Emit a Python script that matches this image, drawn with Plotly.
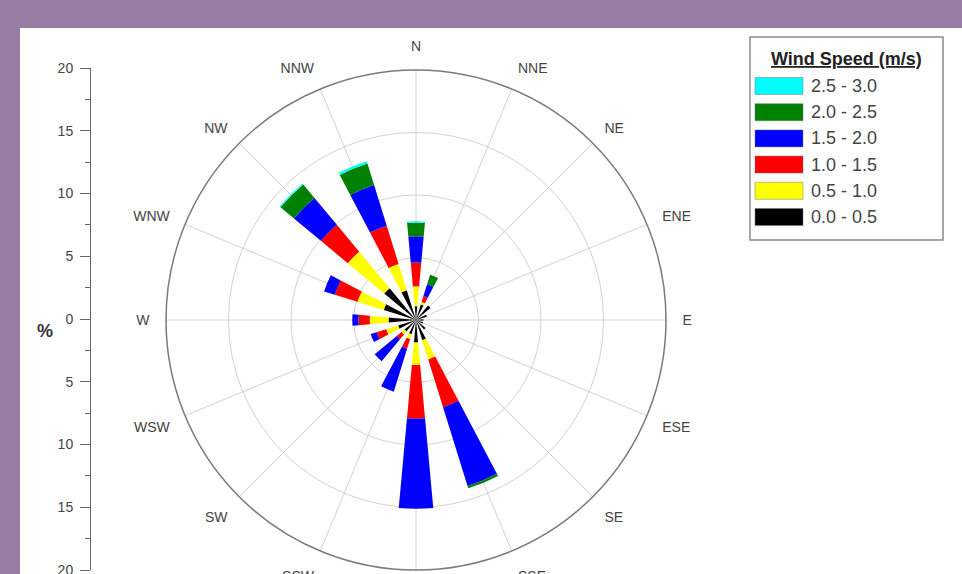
import plotly.graph_objects as go

# Wind directions (16-point compass, clockwise from north)
directions = ["N", "NNE", "NE", "ENE", "E", "ESE", "SE", "SSE",
              "S", "SSW", "SW", "WSW", "W", "WNW", "NW", "NNW"]
angles = [i * 22.5 for i in range(16)]

# Frequency (%) of each speed class per direction
speed_0_05 = [1.1, 1.3, 1.5, 0.9, 0.6, 0.6, 1.0, 1.7, 1.8, 1.2, 1.2, 1.5, 2.2, 2.7, 3.3, 2.5]
speed_05_10 = [1.6, 0.2, 0.0, 0.0, 0.0, 0.0, 0.0, 1.6, 1.8, 0.4, 0.3, 1.0, 1.5, 2.2, 3.8, 2.2]
speed_10_15 = [1.9, 0.5, 0.0, 0.0, 0.0, 0.0, 0.0, 4.0, 4.3, 0.8, 0.5, 0.8, 0.9, 1.9, 2.8, 3.2]
speed_15_20 = [2.1, 1.0, 0.0, 0.0, 0.0, 0.0, 0.0, 6.6, 7.2, 3.6, 2.3, 0.5, 0.5, 0.9, 2.8, 3.4]
speed_20_25 = [1.1, 0.8, 0.0, 0.0, 0.0, 0.0, 0.0, 0.2, 0.0, 0.0, 0.0, 0.0, 0.0, 0.0, 1.4, 1.8]
speed_25_30 = [0.1, 0.0, 0.0, 0.0, 0.0, 0.0, 0.0, 0.0, 0.0, 0.0, 0.0, 0.0, 0.0, 0.0, 0.1, 0.2]

speed_labels = ["0.0 - 0.5", "0.5 - 1.0", "1.0 - 1.5", "1.5 - 2.0", "2.0 - 2.5", "2.5 - 3.0"]
speed_colors = ["#000000", "#ffff00", "#ff0000", "#0000ff", "#008000", "#00ffff"]
speed_series = [speed_0_05, speed_05_10, speed_10_15, speed_15_20, speed_20_25, speed_25_30]

# Left-hand radial scale labels
scale_vals = [-20, -15, -10, -5, 0, 5, 10, 15, 20]
scale_text = ["20", "15", "10", "5", "0", "5", "10", "15", "20"]

W, H = 962, 574
FONT = "Arial, Liberation Sans, sans-serif"


def px_x(x):
    return x / W


def px_y(y):
    return 1 - y / H


fig = go.Figure()

for vals, label, color in zip(speed_series, speed_labels, speed_colors):
    fig.add_trace(go.Barpolar(
        r=vals, theta=angles, width=[10.5] * len(angles),
        name=label, marker=dict(color=color, line=dict(width=0)),
        showlegend=False,
    ))

# invisible trace so the cartesian scale on the left is drawn
fig.add_trace(go.Scatter(x=[0], y=[0], mode="markers", marker=dict(opacity=0),
                         hoverinfo="skip", showlegend=False))

shapes = [
    # white panel
    dict(type="rect", xref="paper", yref="paper", layer="below",
         x0=px_x(20), x1=1.0, y0=0.0, y1=px_y(28),
         fillcolor="white", line=dict(width=0)),
    # legend frame
    dict(type="rect", xref="paper", yref="paper",
         x0=px_x(750), x1=px_x(943), y0=px_y(240), y1=px_y(37),
         fillcolor="white", line=dict(color="#8a8a8a", width=1.5)),
]

annotations = [
    dict(text="<b><u>Wind Speed (m/s)</u></b>", xref="paper", yref="paper",
         x=px_x(846), y=px_y(59), xanchor="center", yanchor="middle",
         showarrow=False, font=dict(family=FONT, size=18, color="#222")),
    dict(text="<b>%</b>", xref="paper", yref="paper",
         x=px_x(45), y=px_y(331), xanchor="center", yanchor="middle",
         showarrow=False, font=dict(family=FONT, size=18, color="#333")),
]

# legend rows, top entry is the fastest class
for i, (label, color) in enumerate(zip(reversed(speed_labels), reversed(speed_colors))):
    cy = 86 + i * 26.2
    shapes.append(dict(type="rect", xref="paper", yref="paper",
                       x0=px_x(755), x1=px_x(803), y0=px_y(cy + 8.5), y1=px_y(cy - 8.5),
                       fillcolor=color, line=dict(color="#777", width=0.5)))
    annotations.append(dict(text=label, xref="paper", yref="paper",
                            x=px_x(809), y=px_y(cy), xanchor="left", yanchor="middle",
                            showarrow=False, font=dict(family=FONT, size=18, color="#444")))

fig.update_layout(
    width=W, height=H,
    margin=dict(l=0, r=0, t=0, b=0, autoexpand=False),
    paper_bgcolor="#977ca4",
    plot_bgcolor="rgba(0,0,0,0)",
    font=dict(family=FONT, color="#444"),
    shapes=shapes,
    annotations=annotations,
    polar=dict(
        domain=dict(x=[px_x(166), px_x(666)], y=[px_y(570), px_y(70)]),
        bgcolor="white",
        barmode="stack",
        radialaxis=dict(range=[0, 20], tickvals=[5, 10, 15], showticklabels=False,
                        ticks="", showline=False, gridcolor="#d2d2d2", gridwidth=1),
        angularaxis=dict(rotation=90, direction="clockwise",
                         tickmode="array", tickvals=angles, ticktext=directions,
                         showline=True, linecolor="#7a7a7a", linewidth=1.5,
                         gridcolor="#d2d2d2", gridwidth=1,
                         ticks="outside", ticklen=13, tickcolor="rgba(0,0,0,0)",
                         tickfont=dict(family=FONT, size=14, color="#444")),
    ),
    xaxis=dict(domain=[0.0, px_x(90)], visible=False, range=[-1, 1], automargin=False),
    yaxis=dict(domain=[px_y(570), px_y(68)], range=[-20, 20],
               anchor="free", position=px_x(90), side="left", automargin=False,
               tickmode="array", tickvals=scale_vals, ticktext=scale_text,
               ticks="outside", ticklen=10, tickcolor="#666",
               ticklabeloverflow="allow", ticklabelstandoff=4,
               showline=True, linecolor="#666", linewidth=1,
               showgrid=False, zeroline=False,
               tickfont=dict(family=FONT, size=14, color="#444"),
               minor=dict(tickvals=[-17.5, -12.5, -7.5, -2.5, 2.5, 7.5, 12.5, 17.5],
                          ticks="outside", ticklen=5, tickcolor="#666")),
)

fig.write_html("out.html")
